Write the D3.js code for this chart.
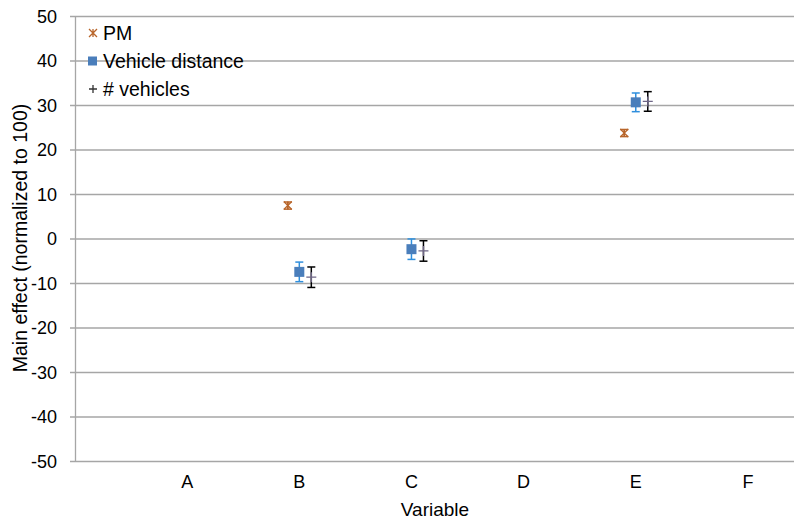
<!DOCTYPE html>
<html><head><meta charset="utf-8">
<script src="https://cdn.jsdelivr.net/npm/d3@7"></script>
<style>body{margin:0;background:#fff}svg{display:block;font-family:"Liberation Sans",Arial,sans-serif}</style>
</head><body>
<svg id="c" width="794" height="521"></svg>
<script>
const categories = ["A","B","C","D","E","F"];
const yTicks = [50,40,30,20,10,0,-10,-20,-30,-40,-50];
// series: category, value, error
const pmCats = ["B","E"];
const pmValues = [7.4, 23.7];
const pmErrors = [0.8, 0.8];
const vdCats = ["B","C","E"];
const vdValues = [-7.5, -2.4, 30.6];
const vdErrors = [2.2, 2.3, 2.1];
const nvCats = ["B","C","E"];
const nvValues = [-8.7, -2.8, 30.8];
const nvErrors = [2.3, 2.3, 2.2];

const svg = d3.select("#c");
const plotLeft = 75, plotTop = 16, plotBottom = 461;
const x = d3.scaleLinear().domain([0, 6.5]).range([plotLeft, 804]);
const catIndex = c => categories.indexOf(c) + 1;
const y = d3.scaleLinear().domain([-50, 50]).range([plotBottom, plotTop]);
const grid = "#a6a6a6";

// gridlines
svg.append("g").selectAll("line").data(yTicks).join("line")
  .attr("x1", plotLeft - 5).attr("x2", 794)
  .attr("y1", d => y(d) + 0.5).attr("y2", d => y(d) + 0.5)
  .attr("stroke", grid).attr("stroke-width", 1.3);
svg.append("line").attr("x1", plotLeft + 0.5).attr("x2", plotLeft + 0.5)
  .attr("y1", plotTop).attr("y2", plotBottom + 1).attr("stroke", grid).attr("stroke-width", 1.3);
// y labels
svg.append("g").selectAll("text").data(yTicks).join("text")
  .attr("x", 57).attr("y", d => y(d) + 6.5).attr("text-anchor", "end")
  .attr("font-size", 18).attr("fill", "#000").text(d => d);
// x labels
svg.append("g").selectAll("text").data(categories).join("text")
  .attr("x", d => x(catIndex(d))).attr("y", 488).attr("text-anchor", "middle")
  .attr("font-size", 18).text(d => d);
svg.append("text").attr("x", 435).attr("y", 516).attr("text-anchor", "middle")
  .attr("font-size", 19).text("Variable");
svg.append("text").attr("transform", "translate(27,238) rotate(-90)")
  .attr("text-anchor", "middle").attr("font-size", 19.5).text("Main effect (normalized to 100)");

function errBar(g, cx, v, e, color, w) {
  g.append("line").attr("x1", cx).attr("x2", cx).attr("y1", y(v + e)).attr("y2", y(v - e)).attr("stroke", color).attr("stroke-width", 1.5);
  [v + e, v - e].forEach(t => g.append("line").attr("x1", cx - w).attr("x2", cx + w)
    .attr("y1", y(t)).attr("y2", y(t)).attr("stroke", color).attr("stroke-width", 1.5));
}
function star(g, cx, cy, s, color) {
  g.append("path").attr("d", `M${cx-s},${cy-s}L${cx+s},${cy+s}M${cx-s},${cy+s}L${cx+s},${cy-s}M${cx},${cy-s}L${cx},${cy+s}`)
    .attr("stroke", color).attr("stroke-width", 1.3).attr("fill", "none");
}
function plus(g, cx, cy, s, color) {
  g.append("path").attr("d", `M${cx-s},${cy}L${cx+s},${cy}M${cx},${cy-s}L${cx},${cy+s}`)
    .attr("stroke", color).attr("stroke-width", 1.3).attr("fill", "none");
}
const pmColor = "#b8652a", vdColor = "#4a7ebb", vdErr = "#2f8fdd", nvColor = "#6e6686";
const g = svg.append("g");
pmCats.forEach((c, i) => {
  const cx = x(catIndex(c)) - 11.5;
  errBar(g, cx, pmValues[i], pmErrors[i], pmColor, 4);
  star(g, cx, y(pmValues[i]), 4, pmColor);
});
vdCats.forEach((c, i) => {
  const cx = x(catIndex(c));
  errBar(g, cx, vdValues[i], vdErrors[i], vdErr, 4);
  g.append("rect").attr("x", cx - 5).attr("y", y(vdValues[i]) - 5).attr("width", 10).attr("height", 10).attr("fill", vdColor);
});
nvCats.forEach((c, i) => {
  const cx = x(catIndex(c)) + 12;
  errBar(g, cx, nvValues[i], nvErrors[i], "#000", 4);
  plus(g, cx, y(nvValues[i]), 5, nvColor);
});

// legend
const leg = svg.append("g");
const rows = [["PM", "pm"], ["Vehicle distance", "vd"], ["# vehicles", "nv"]];
rows.forEach((r, i) => {
  const cy = 33 + i * 28;
  if (r[1] === "pm") star(leg, 93, cy, 4, pmColor);
  else if (r[1] === "vd") leg.append("rect").attr("x", 88).attr("y", cy - 4.5).attr("width", 9).attr("height", 9).attr("fill", vdColor);
  else plus(leg, 93, cy, 4, "#333");
  leg.append("text").attr("x", 103).attr("y", cy + 7).attr("font-size", 19.5).text(r[0]);
});
</script>
</body></html>
